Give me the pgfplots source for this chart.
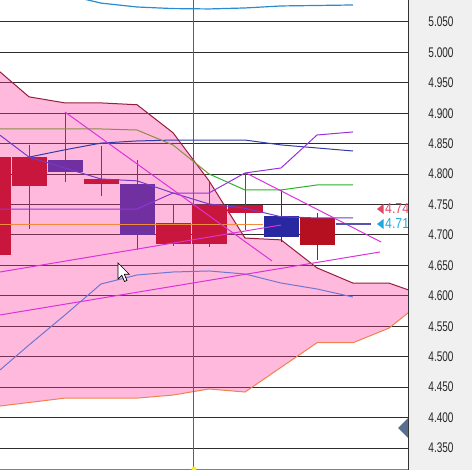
\documentclass[border=0pt]{standalone}
\usepackage{fontspec}
\setmainfont{Liberation Sans}
\usepackage{pgfplots}
\pgfplotsset{compat=1.18}
\definecolor{cloud}{RGB}{255,55,155}
\definecolor{cloudtop}{RGB}{150,30,60}
\definecolor{cloudbot}{RGB}{240,130,80}
\definecolor{crim}{RGB}{200,22,60}
\definecolor{dred}{RGB}{180,16,32}
\definecolor{purp}{RGB}{112,48,160}
\definecolor{cblue}{RGB}{40,40,160}
\definecolor{kblue}{RGB}{50,60,170}
\definecolor{vio}{RGB}{115,60,205}
\definecolor{vio2}{RGB}{150,50,215}
\definecolor{oliv}{RGB}{140,140,70}
\definecolor{grn}{RGB}{40,180,40}
\definecolor{peri}{RGB}{110,120,210}
\definecolor{sky}{RGB}{40,140,210}
\definecolor{mag}{RGB}{220,50,220}
\definecolor{orng}{RGB}{240,140,60}
\definecolor{panel}{RGB}{240,240,240}
\definecolor{lblred}{RGB}{225,70,100}
\definecolor{lblcyan}{RGB}{30,170,225}
\definecolor{slate}{RGB}{88,112,144}
\definecolor{gridc}{RGB}{45,45,45}
\newcommand{\candle}[6]{%
  \addplot[#6, line width=1bp, forget plot] coordinates {(#1,#4) (#1,#5)};
  \addplot[#6, line width=35bp, line cap=butt, forget plot] coordinates {(#1,#2) (#1,#3)};
}
\begin{document}
\begin{tikzpicture}
\useasboundingbox (0,0) rectangle (472bp,470bp);
\fill[panel] (408bp,0) rectangle (472bp,470bp);
\begin{axis}[
  at={(0,0)}, anchor=south west,
  scale only axis, width=408bp, height=470bp,
  xmin=0.1944, xmax=11.5278, ymin=4.3139, ymax=5.0861,
  axis line style={draw=none},
  xtick=\empty,
  ytick={4.35,4.40,4.45,4.50,4.55,4.60,4.65,4.70,4.75,4.80,4.85,4.90,4.95,5.00,5.05},
  yticklabel pos=right,
  major tick length=0pt,
  yticklabel={\scalebox{0.72}[1]{\pgfmathprintnumber[fixed,fixed zerofill,precision=3,assume math mode=true]{\tick}}},
  y tick label style={font=\fontsize{14}{14}\selectfont, anchor=center, xshift=33bp, text=black!85},
]
% grid lines
\pgfplotsinvokeforeach{4.35,4.40,4.45,4.50,4.55,4.60,4.65,4.70,4.75,4.80,4.85,4.90,4.95,5.00,5.05}{
  \draw[gridc, line width=1bp] (axis cs:0.1944,#1) -- (axis cs:11.5278,#1);
}
% cloud
\addplot[fill=cloud, draw=none, fill opacity=0.35, forget plot] coordinates {
 (0.194,4.968) (1,4.927) (2,4.917) (3,4.917) (4,4.914) (5,4.868) (6,4.789) (7,4.695) (8,4.692) (9,4.646) (10,4.621) (11,4.621) (11.528,4.610)
 (11.528,4.572) (11,4.547) (10,4.523) (9,4.523) (7,4.442) (6,4.447) (5,4.437) (4,4.432) (2,4.432) (0.194,4.419)} --cycle;
\addplot[cloudtop, line width=1bp] coordinates {
 (0.194,4.968) (1,4.927) (2,4.917) (3,4.917) (4,4.914) (5,4.868) (6,4.789) (7,4.695) (8,4.692) (9,4.646) (10,4.621) (11,4.621) (11.528,4.610)};
\addplot[cloudbot, line width=1bp] coordinates {
 (0.194,4.419) (2,4.432) (4,4.432) (5,4.437) (6,4.447) (7,4.442) (9,4.523) (10,4.523) (11,4.547) (11.528,4.572)};
% vertical marker line
\draw[gray!75!black, line width=1bp] (axis cs:5.583,4.30) -- (axis cs:5.583,5.10);
% candles
\candle{0}{4.828}{4.667}{4.828}{4.667}{crim}
\candle{1}{4.828}{4.7805}{4.848}{4.710}{crim}
\candle{2}{4.823}{4.8035}{4.902}{4.787}{purp}
\candle{3}{4.792}{4.784}{4.846}{4.764}{crim}
\candle{4}{4.784}{4.700}{4.823}{4.675}{purp}
\candle{5}{4.720}{4.685}{4.751}{4.682}{crim}
\candle{6}{4.749}{4.685}{4.787}{4.680}{crim}
\candle{7}{4.749}{4.736}{4.802}{4.708}{crim}
\candle{8}{4.731}{4.696}{4.774}{4.689}{cblue}
\candle{9}{4.728}{4.683}{4.736}{4.659}{dred}
% indicator lines
\addplot[sky, line width=1.2bp] coordinates {(2,5.095) (3,5.081) (4,5.0746) (5,5.072) (6,5.0714) (7,5.073) (8,5.0763) (9,5.0771) (10,5.0779)};
\addplot[kblue, line width=1bp] coordinates {(1,4.828) (2,4.840) (3,4.851) (4,4.8545) (5,4.856) (6,4.856) (7,4.856) (8,4.848) (9,4.843) (10,4.838)};
\addplot[oliv, line width=1bp] coordinates {(0.194,4.8742) (1,4.8742) (2,4.8742) (3,4.8742) (4,4.8725) (5,4.8479) (6,4.8003)};
\addplot[grn, line width=1bp] coordinates {(6,4.8003) (7,4.774) (8,4.774) (9,4.7822) (10,4.7822)};
\addplot[vio, line width=1bp] coordinates {(0.194,4.864) (1,4.828) (2,4.810) (3,4.792) (4,4.789) (5,4.769) (6,4.751) (7,4.744) (8,4.730) (9,4.728) (10,4.728)};
\addplot[vio2, line width=1bp] coordinates {(0.194,4.7427) (4,4.7427) (5,4.769) (6,4.769) (7,4.8019) (8,4.8101) (9,4.8643) (10,4.8693)};
\addplot[peri, line width=1bp] coordinates {(0.194,4.4782) (1,4.5193) (2,4.5686) (3,4.6195) (4,4.6343) (5,4.6392) (6,4.6409) (7,4.6359) (8,4.6211) (9,4.6113) (10,4.5981)};
\addplot[orng, line width=1bp] coordinates {(0.194,4.718) (7.5,4.718)};
% trend lines
\addplot[mag, line width=1bp] coordinates {(2,4.902) (7.75,4.6573)};
\addplot[mag, line width=1bp] coordinates {(7.028,4.8019) (10.78,4.6885)};
\addplot[mag, line width=1bp] coordinates {(0.194,4.6392) (8,4.7164)};
\addplot[mag, line width=1bp] coordinates {(0.194,4.5686) (10.75,4.6721)};
% current price line
\addplot[cblue!80!white, line width=2bp] coordinates {(9.528,4.718) (10.5,4.718)};
\end{axis}
% price tags (clipped at the plot edge)
\begin{scope}
\clip (0,0) rectangle (408bp,470bp);
\fill[lblred] (377bp,261bp) -- (383.5bp,266bp) -- (383.5bp,256bp) -- cycle;
\node[anchor=west, inner sep=0pt, text=lblred, font=\fontsize{14.5}{14.5}\selectfont] at (385bp,261bp) {\scalebox{0.85}[1]{4.74}};
\fill[lblcyan] (377bp,246bp) -- (383.5bp,251bp) -- (383.5bp,241bp) -- cycle;
\node[anchor=west, inner sep=0pt, text=lblcyan, font=\fontsize{14.5}{14.5}\selectfont] at (385bp,246bp) {\scalebox{0.85}[1]{4.71}};
\fill[slate] (398bp,42bp) -- (408bp,52bp) -- (408bp,32bp) -- cycle;
\end{scope}
% frame
\draw[black!80, line width=1bp] (408bp,0) -- (408bp,470bp);
\draw[gray, line width=1bp] (0,0.5bp) -- (408bp,0.5bp);
\fill[yellow] (194bp,1bp) circle (2.5bp);
% mouse cursor
\begin{scope}[shift={(118bp,207bp)}, x=1bp, y=1bp]
\filldraw[fill=white, draw=black, line width=0.7bp] (0,0) -- (0,-16) -- (3.8,-12.3) -- (6.5,-18.5) -- (9,-17.4) -- (6.3,-11.3) -- (11.3,-11.3) -- cycle;
\end{scope}
\end{tikzpicture}
\end{document}
